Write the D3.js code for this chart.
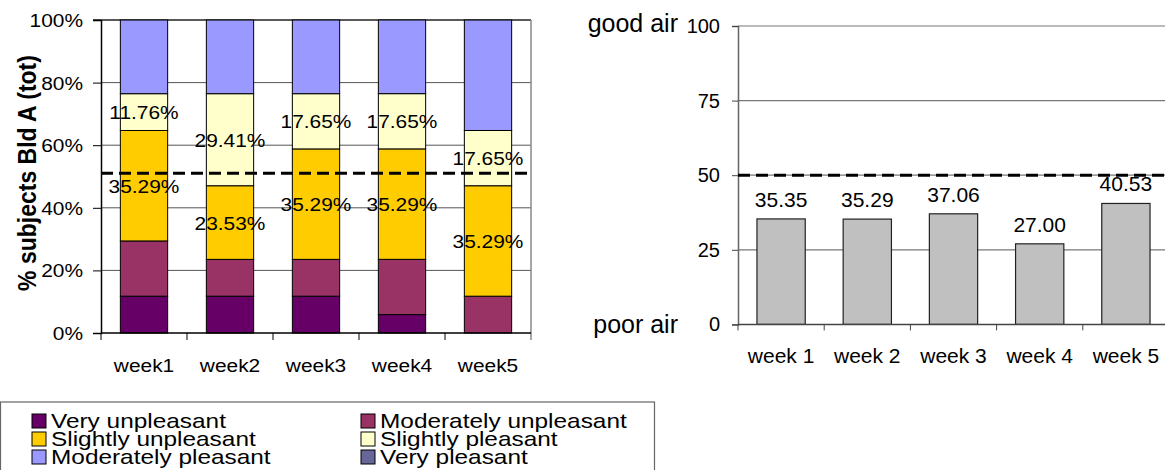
<!DOCTYPE html>
<html>
<head>
<meta charset="utf-8">
<script src="https://cdn.jsdelivr.net/npm/d3@7/dist/d3.min.js"></script>
<style>
  html, body { margin: 0; padding: 0; background: #fff; }
  svg { display: block; font-family: Arial, "Liberation Sans", sans-serif; }
</style>
</head>
<body>
<svg id="chart" width="1165" height="470"></svg>
<script>
// ---------- DATA ----------
const weeksA = ["week1", "week2", "week3", "week4", "week5"];
const seriesNames = ["Very unpleasant", "Moderately unpleasant", "Slightly unpleasant",
                     "Slightly pleasant", "Moderately pleasant", "Very pleasant"];
const seriesColors = ["#660066", "#993366", "#FFCC00", "#FFFFCC", "#9999FF", "#666699"];
const veryUnpleasant       = [11.76, 11.76, 11.76, 5.88, 0];
const moderatelyUnpleasant = [17.65, 11.76, 11.76, 17.65, 11.76];
const slightlyUnpleasant   = [35.29, 23.53, 35.29, 35.29, 35.29];
const slightlyPleasant     = [11.76, 29.41, 17.65, 17.65, 17.65];
const moderatelyPleasant   = [23.53, 23.53, 23.53, 23.53, 35.29];
const veryPleasant         = [0, 0, 0, 0, 0];
const labeledSeries = ["Slightly unpleasant", "Slightly pleasant"];
const pctTicks = [0, 20, 40, 60, 80, 100];
const thresholdA = 51;

const weeksB = ["week 1", "week 2", "week 3", "week 4", "week 5"];
const airScores = [35.35, 35.29, 37.06, 27.00, 40.53];
const scoreTicks = [0, 25, 50, 75, 100];
const thresholdB = 50;
const topLabel = "good air";
const bottomLabel = "poor air";
const yTitleA = "% subjects Bld A (tot)";

// ---------- SETUP ----------
const svg = d3.select("#chart");
const allSeries = [veryUnpleasant, moderatelyUnpleasant, slightlyUnpleasant,
                   slightlyPleasant, moderatelyPleasant, veryPleasant];
const tableA = weeksA.map((w, i) => {
  const row = { week: w };
  seriesNames.forEach((s, j) => row[s] = allSeries[j][i]);
  return row;
});
const color = d3.scaleOrdinal().domain(seriesNames).range(seriesColors);

// stretched text helper
function stext(g, x, y, str, size, sx, anchor, weight) {
  return g.append("text")
    .attr("transform", `translate(${x},${y}) scale(${sx},1)`)
    .attr("text-anchor", anchor || "start")
    .attr("font-size", size)
    .attr("font-weight", weight || "normal")
    .attr("fill", "#000")
    .text(str);
}

// ---------- LEFT CHART ----------
const A = { left: 101, right: 531, top: 20, bottom: 333 };
const xA = d3.scaleBand().domain(weeksA).range([A.left, A.right])
  .paddingInner(0.45).paddingOuter(0.225);
const yA = d3.scaleLinear().domain([0, 100]).range([A.bottom, A.top]);
const gA = svg.append("g");
const SX = 1.1;

// gridlines
gA.selectAll("line.grid").data(pctTicks.filter(t => t > 0 && t < 100)).join("line")
  .attr("x1", A.left).attr("x2", A.right)
  .attr("y1", d => yA(d)).attr("y2", d => yA(d))
  .attr("stroke", "#555").attr("stroke-width", 1);
// top frame line
gA.append("line").attr("x1", A.left - 8).attr("x2", A.right)
  .attr("y1", yA(100)).attr("y2", yA(100)).attr("stroke", "#222").attr("stroke-width", 1.5);
// right frame
gA.append("line").attr("x1", A.right).attr("x2", A.right)
  .attr("y1", A.top).attr("y2", A.bottom + 7).attr("stroke", "#888").attr("stroke-width", 1.5);

// stacked bars
const stackA = d3.stack().keys(seriesNames)(tableA);
const layers = gA.selectAll("g.layer").data(stackA).join("g")
  .attr("fill", d => color(d.key));
layers.selectAll("rect").data(d => d.filter(p => p[1] - p[0] > 0.001)).join("rect")
  .attr("x", d => xA(d.data.week))
  .attr("width", xA.bandwidth())
  .attr("y", d => yA(d[1]))
  .attr("height", d => yA(d[0]) - yA(d[1]))
  .attr("stroke", "#000").attr("stroke-width", 1);

// y axis
const axisAY = d3.axisLeft(yA).tickValues(pctTicks).tickSize(8).tickPadding(10)
  .tickFormat(d => d + "%");
const gAy = gA.append("g").attr("transform", `translate(${A.left},0)`).call(axisAY);
gAy.select(".domain").attr("stroke", "#000").attr("stroke-width", 1.5);
gAy.selectAll(".tick line").attr("stroke", "#000");
gAy.selectAll(".tick text").remove();
pctTicks.forEach(t => {
  stext(gA, A.left - 18, yA(t) + 7, t + "%", 19, SX, "end");
});

// x axis
const gAx = gA.append("g").attr("transform", `translate(0,${A.bottom})`);
gAx.append("line").attr("x1", A.left).attr("x2", A.right).attr("y1", 0).attr("y2", 0)
  .attr("stroke", "#000").attr("stroke-width", 1.5);
const stepA = xA.step();
const boundsA = d3.range(weeksA.length + 1).map(i => A.left + i * stepA);
gAx.selectAll("line.tk").data(boundsA.slice(0, -1)).join("line")
  .attr("x1", d => d).attr("x2", d => d).attr("y1", 0).attr("y2", 7)
  .attr("stroke", "#000").attr("stroke-width", 1);
weeksA.forEach(w => {
  stext(gA, xA(w) + xA.bandwidth() / 2, 372, w, 19, SX, "middle");
});

// value labels
stackA.filter(s => labeledSeries.includes(s.key)).forEach(s => {
  s.forEach(p => {
    const v = p[1] - p[0];
    if (v <= 0) return;
    const cy = (yA(p[0]) + yA(p[1])) / 2;
    stext(gA, xA(p.data.week) + xA.bandwidth() / 2, cy + 7, v.toFixed(2) + "%", 19, SX, "middle");
  });
});

// threshold dashed
gA.append("line").attr("x1", A.left).attr("x2", A.right)
  .attr("y1", yA(thresholdA)).attr("y2", yA(thresholdA))
  .attr("stroke", "#000").attr("stroke-width", 3).attr("stroke-dasharray", "12,6");

// y title
gA.append("text")
  .attr("transform", `translate(36,173) rotate(-90) scale(1,1.15)`)
  .attr("text-anchor", "middle")
  .attr("font-size", 23).attr("font-weight", "bold").attr("fill", "#000")
  .text(yTitleA);

// ---------- RIGHT CHART ----------
const B = { left: 738, right: 1169, top: 26, bottom: 324.4 };
const xB = d3.scaleBand().domain(weeksB).range([B.left, B.right])
  .paddingInner(0.44).paddingOuter(0.22);
const yB = d3.scaleLinear().domain([0, 100]).range([B.bottom, B.top]);
const gB = svg.append("g");

gB.selectAll("line.grid").data(scoreTicks.filter(t => t > 0)).join("line")
  .attr("x1", B.left).attr("x2", B.right)
  .attr("y1", d => yB(d)).attr("y2", d => yB(d))
  .attr("stroke", "#777").attr("stroke-width", 1.2);

gB.selectAll("rect.bar").data(airScores).join("rect")
  .attr("x", (d, i) => xB(weeksB[i]))
  .attr("width", xB.bandwidth())
  .attr("y", d => yB(d))
  .attr("height", d => yB(0) - yB(d))
  .attr("fill", "#C0C0C0").attr("stroke", "#222").attr("stroke-width", 1.2);

const axisBY = d3.axisLeft(yB).tickValues(scoreTicks).tickSize(6).tickPadding(12)
  .tickFormat(d3.format("d"));
const gBy = gB.append("g").attr("transform", `translate(${B.left},0)`).call(axisBY);
gBy.select(".domain").attr("stroke", "#666").attr("stroke-width", 1.5);
gBy.selectAll(".tick line").attr("stroke", "#444");
gBy.selectAll(".tick text").attr("font-size", 20).attr("fill", "#000")
  .attr("font-family", "Arial, 'Liberation Sans', sans-serif");

const gBx = gB.append("g").attr("transform", `translate(0,${B.bottom})`);
gBx.append("line").attr("x1", B.left).attr("x2", B.right).attr("y1", 0).attr("y2", 0)
  .attr("stroke", "#444").attr("stroke-width", 1.5);
const stepB = xB.step();
gBx.selectAll("line.tk").data(d3.range(weeksB.length).map(i => B.left + i * stepB)).join("line")
  .attr("x1", d => d).attr("x2", d => d).attr("y1", 0).attr("y2", 6)
  .attr("stroke", "#444");
gB.selectAll("text.xl").data(weeksB).join("text")
  .attr("x", d => xB(d) + xB.bandwidth() / 2).attr("y", 363)
  .attr("text-anchor", "middle").attr("font-size", 21).attr("fill", "#000")
  .text(d => d);

gB.selectAll("text.val").data(airScores).join("text")
  .attr("x", (d, i) => xB(weeksB[i]) + xB.bandwidth() / 2)
  .attr("y", d => yB(d) - 12)
  .attr("text-anchor", "middle").attr("font-size", 21).attr("fill", "#000")
  .text(d => d.toFixed(2));

gB.append("line").attr("x1", B.left).attr("x2", 1165)
  .attr("y1", yB(thresholdB)).attr("y2", yB(thresholdB))
  .attr("stroke", "#000").attr("stroke-width", 3).attr("stroke-dasharray", "12,6");

gB.append("text").attr("x", 678).attr("y", yB(100) + 6).attr("text-anchor", "end")
  .attr("font-size", 25).attr("fill", "#000").text(topLabel);
gB.append("text").attr("x", 678).attr("y", yB(0) + 9).attr("text-anchor", "end")
  .attr("font-size", 25).attr("fill", "#000").text(bottomLabel);

// ---------- LEGEND ----------
const gL = svg.append("g");
gL.append("rect").attr("x", 0.5).attr("y", 402).attr("width", 654).attr("height", 80)
  .attr("fill", "#fff").attr("stroke", "#666").attr("stroke-width", 1.2);
const legCols = [32, 361];
const legRows = [421, 439, 457];
seriesNames.forEach((s, i) => {
  const cx = legCols[i % 2], cy = legRows[Math.floor(i / 2)];
  gL.append("rect").attr("x", cx).attr("y", cy - 7).attr("width", 14).attr("height", 14)
    .attr("fill", color(s)).attr("stroke", "#000").attr("stroke-width", 1);
  stext(gL, cx + 19, cy + 7, s, 20, 1.22, "start");
});
</script>
</body>
</html>
